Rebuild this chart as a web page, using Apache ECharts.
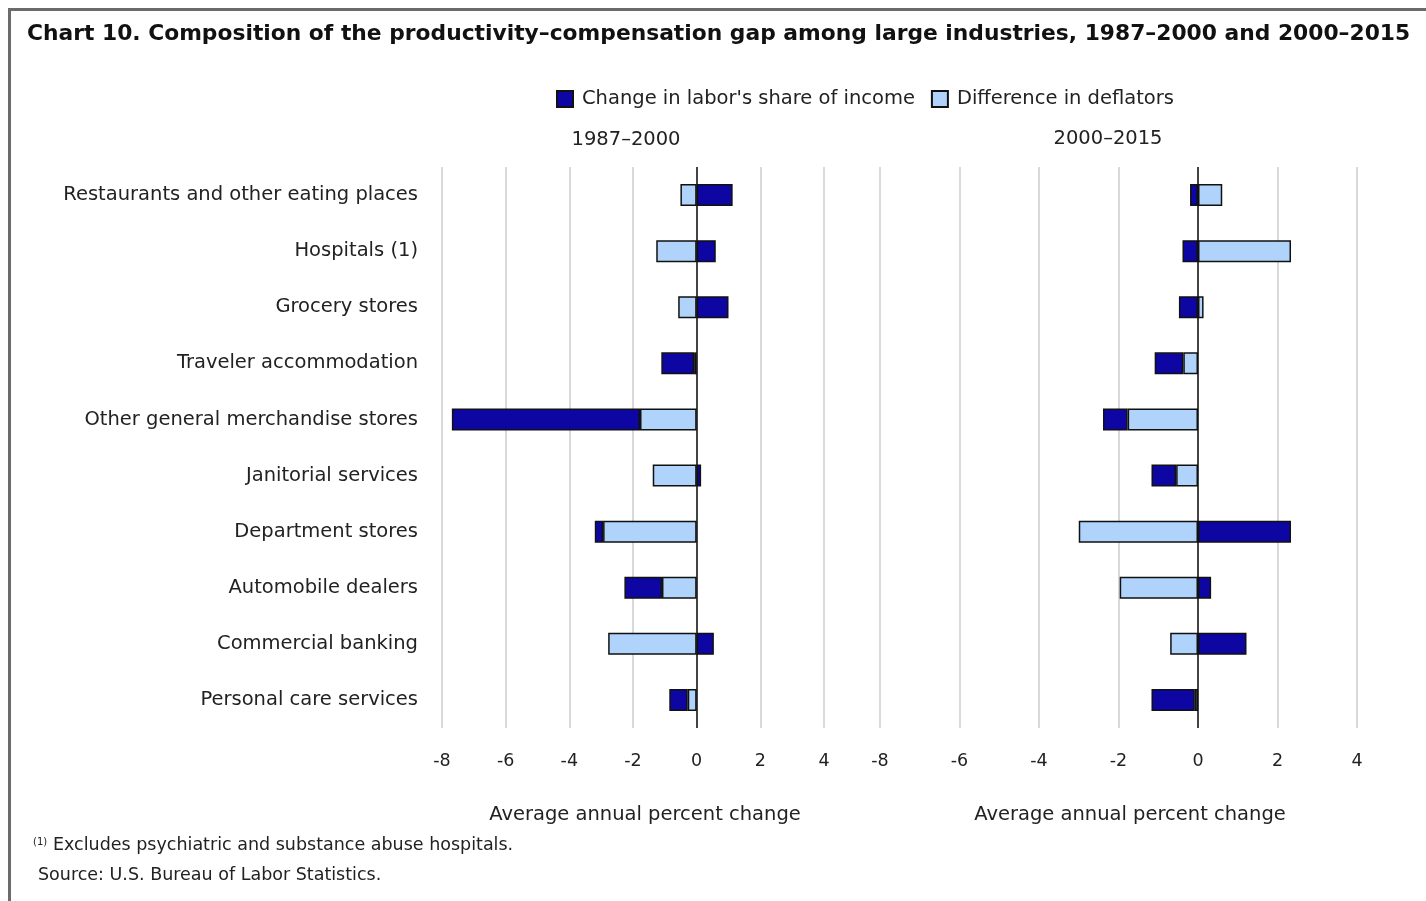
<!DOCTYPE html>
<html>
<head>
<meta charset="utf-8">
<title>Chart 10</title>
<script src="https://cdn.jsdelivr.net/npm/echarts@6/dist/echarts.min.js"></script>
<style>
  html, body { margin: 0; padding: 0; background: #fff; }
  #main { width: 1426px; height: 901px; }
</style>
</head>
<body>
<div id="main"></div>
<script type="text/javascript">
// industries, top to bottom
var industries = [
  'Restaurants and other eating places',
  'Hospitals (1)',
  'Grocery stores',
  'Traveler accommodation',
  'Other general merchandise stores',
  'Janitorial services',
  'Department stores',
  'Automobile dealers',
  'Commercial banking',
  'Personal care services'
];

// 1987–2000
var labor8700 = [1.13, 0.60, 1.00, -1.03, -5.91, 0.14, -0.26, -1.18, 0.54, -0.58];
var defl8700  = [-0.51, -1.27, -0.58, -0.08, -1.78, -1.38, -2.94, -1.09, -2.78, -0.28];

// 2000–2015
var labor0015 = [-0.20, -0.39, -0.48, -0.72, -0.62, -0.62, 2.34, 0.33, 1.22, -1.09];
var defl0015  = [0.61, 2.34, 0.14, -0.37, -1.77, -0.55, -3.00, -1.97, -0.70, -0.08];

var xMin = -8, xMax = 4, xStep = 2;

var FONT = '"DejaVu Sans"';
var DARK = '#0d06a2';
var LIGHT = '#afd3fb';

var mychart = echarts.init(document.getElementById('main'));

function valueAxis(idx) {
  return {
    type: 'value', gridIndex: idx, min: xMin, max: xMax, interval: xStep,
    axisLine: { show: false }, axisTick: { show: false },
    axisLabel: { color: '#222', fontFamily: FONT, fontSize: 17.5, margin: 24 },
    splitLine: { show: true, lineStyle: { color: '#d9d9d9', width: 2 } }
  };
}

function catAxis(idx, showLabels) {
  return {
    type: 'category', gridIndex: idx, data: industries, inverse: true,
    axisLine: { show: false }, axisTick: { show: false },
    axisLabel: { show: showLabels, color: '#222', fontFamily: FONT, fontSize: 19.5, margin: 24 }
  };
}

var zeroLine = {
  silent: true, symbol: 'none', animation: false,
  label: { show: false },
  lineStyle: { color: '#111', width: 1.5, type: 'solid' },
  data: [{ xAxis: 0 }]
};

function barSeries(name, data, color, idx, stack, withZero) {
  var s = {
    name: name, type: 'bar', stack: stack, data: data,
    xAxisIndex: idx, yAxisIndex: idx, barWidth: 22,
    itemStyle: { color: color, borderColor: '#111', borderWidth: 1.5 }
  };
  if (withZero) s.markLine = zeroLine;
  return s;
}

var option = {
  animation: false,
  backgroundColor: '#fff',
  title: [
    { text: 'Chart 10. Composition of the productivity\u2013compensation gap among large industries, 1987\u20132000 and 2000\u20132015',
      left: 22, top: 18, textStyle: { fontFamily: FONT, fontSize: 21.8, fontWeight: 'bold', color: '#111' } },
    { text: '1987\u20132000', left: 621, top: 125, textAlign: 'center',
      textStyle: { fontFamily: FONT, fontSize: 19.5, fontWeight: 'normal', color: '#222' } },
    { text: '2000\u20132015', left: 1103, top: 124, textAlign: 'center',
      textStyle: { fontFamily: FONT, fontSize: 19.5, fontWeight: 'normal', color: '#222' } },
    { text: 'Average annual percent change', left: 640, top: 800, textAlign: 'center',
      textStyle: { fontFamily: FONT, fontSize: 19.5, fontWeight: 'normal', color: '#222' } },
    { text: 'Average annual percent change', left: 1125, top: 800, textAlign: 'center',
      textStyle: { fontFamily: FONT, fontSize: 19.5, fontWeight: 'normal', color: '#222' } }
  ],
  legend: {
    left: 551, top: 84, icon: 'rect', itemWidth: 16, itemHeight: 16, itemGap: 16,
    data: ["Change in labor's share of income", 'Difference in deflators'],
    textStyle: { fontFamily: FONT, fontSize: 19.5, color: '#222', padding: [0, 0, 0, 4] }
  },
  grid: [
    { left: 442, right: 602, top: 167, bottom: 173 },
    { left: 880, right: 69, top: 167, bottom: 173 }
  ],
  xAxis: [valueAxis(0), valueAxis(1)],
  yAxis: [catAxis(0, true), catAxis(1, false)],
  series: [
    barSeries('Difference in deflators', defl8700, LIGHT, 0, 'a', true),
    barSeries("Change in labor's share of income", labor8700, DARK, 0, 'a', false),
    barSeries('Difference in deflators', defl0015, LIGHT, 1, 'b', true),
    barSeries("Change in labor's share of income", labor0015, DARK, 1, 'b', false)
  ],
  graphic: [
    { type: 'line', shape: { x1: 8, y1: 9.5, x2: 1426, y2: 9.5 }, style: { stroke: '#6b6b6b', lineWidth: 3 } },
    { type: 'line', shape: { x1: 9.5, y1: 8, x2: 9.5, y2: 901 }, style: { stroke: '#6b6b6b', lineWidth: 3 } },
    { type: 'text', left: 33, top: 837, style: { text: '(1)', font: '10px ' + FONT, fill: '#222' } },
    { type: 'text', left: 53, top: 836, style: { text: 'Excludes psychiatric and substance abuse hospitals.', font: '17.5px ' + FONT, fill: '#222' } },
    { type: 'text', left: 38, top: 866, style: { text: 'Source: U.S. Bureau of Labor Statistics.', font: '17.5px ' + FONT, fill: '#222' } }
  ]
};

mychart.setOption(option);
</script>
</body>
</html>
